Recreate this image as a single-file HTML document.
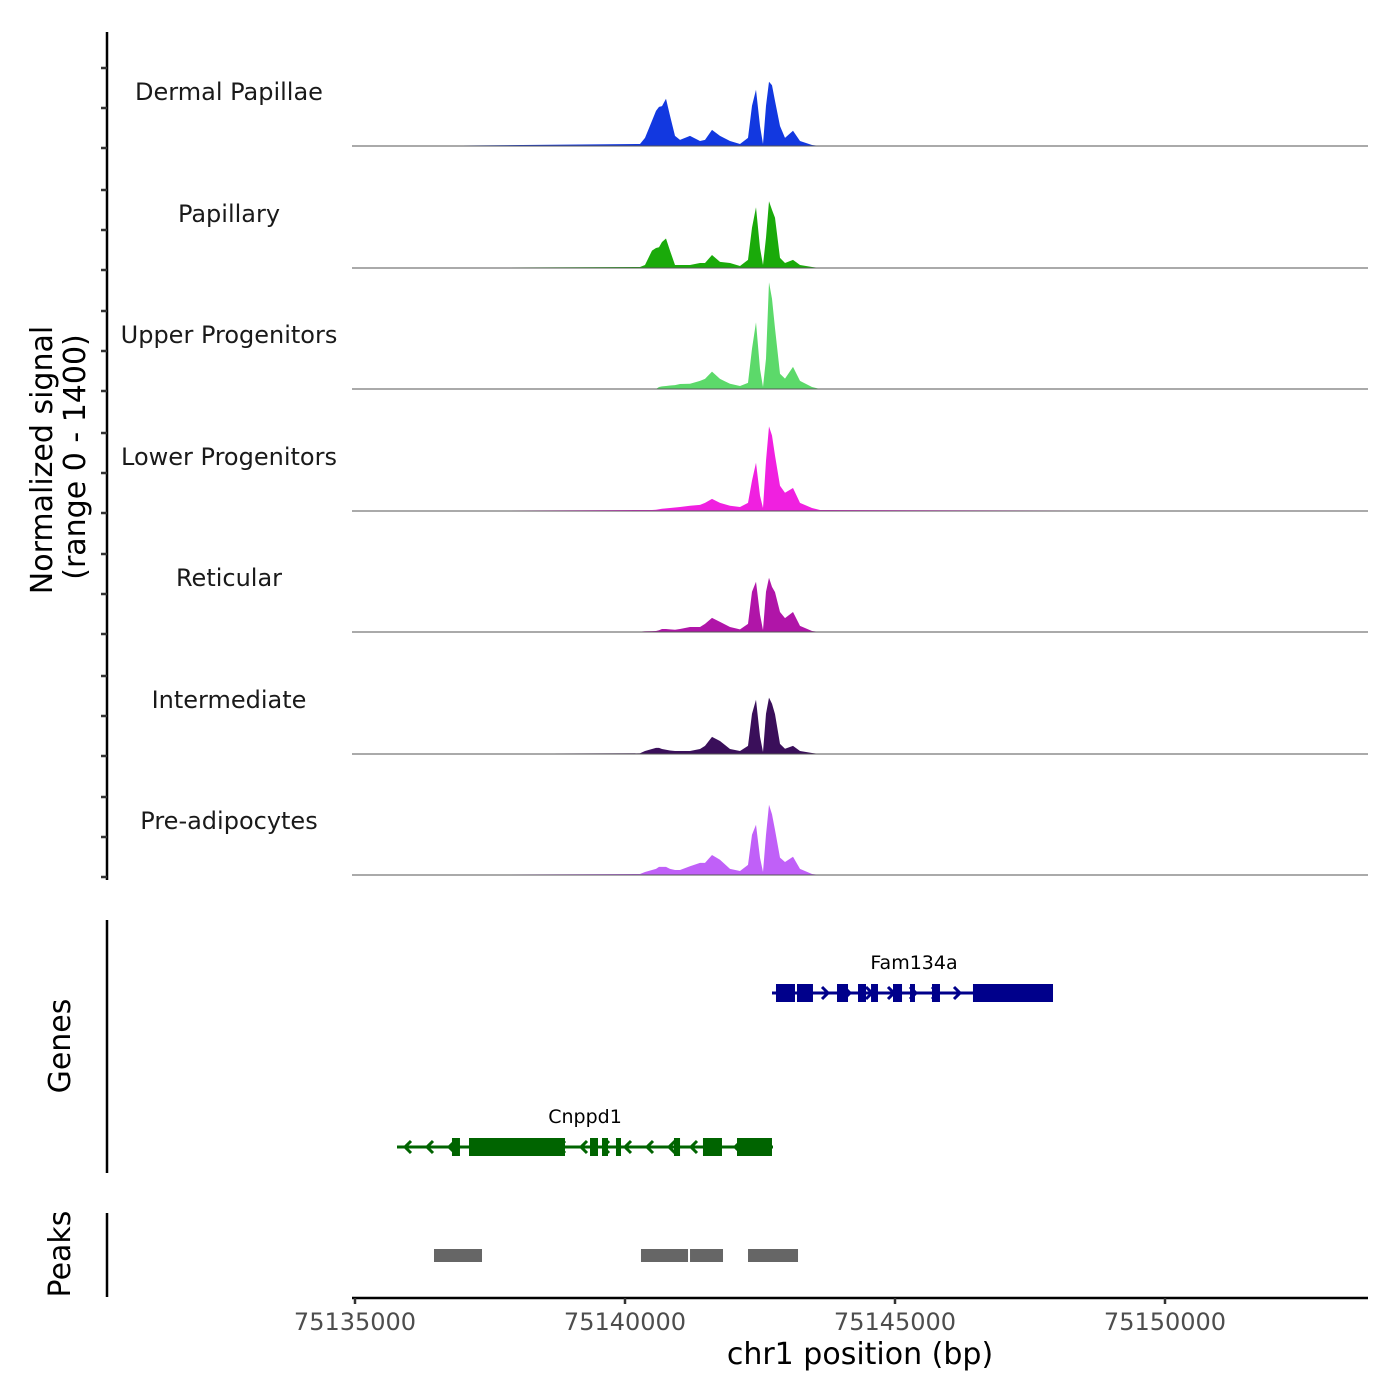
<!DOCTYPE html>
<html><head><meta charset="utf-8">
<style>
html,body{margin:0;padding:0;background:#fff;}
svg{display:block;font-family:"DejaVu Sans","Liberation Sans",sans-serif;}
</style></head>
<body>
<svg id="chart" width="1400" height="1400" viewBox="0 0 1400 1400" xmlns="http://www.w3.org/2000/svg">
<rect width="1400" height="1400" fill="#fff"/>
<g id="tracks"></g>
<g id="genes"></g>
<g id="peaks"></g>
<g id="axes"></g>
<text transform="translate(52,460) rotate(-90)" text-anchor="middle" font-size="30" fill="#000">Normalized signal</text>
<text transform="translate(85,457) rotate(-90)" text-anchor="middle" font-size="30" fill="#000">(range 0 - 1400)</text>
<text transform="translate(70,1046) rotate(-90)" text-anchor="middle" font-size="30" fill="#000">Genes</text>
<text transform="translate(70,1254) rotate(-90)" text-anchor="middle" font-size="30" fill="#000">Peaks</text>
<text x="860" y="1364" text-anchor="middle" font-size="30" fill="#000">chr1 position (bp)</text>
</svg>
<script>
const NS="http://www.w3.org/2000/svg";
// ---- data ----
const positions=[75134944,75135833,75140278,75140370,75140500,75140574,75140630,75140685,75140759,75140833,75140926,75141019,75141204,75141389,75141481,75141611,75141759,75141944,75142130,75142278,75142352,75142426,75142500,75142556,75142611,75142667,75142722,75142778,75142870,75142963,75143111,75143241,75143463,75143611,75153750];
const trackNames=["Dermal Papillae","Papillary","Upper Progenitors","Lower Progenitors","Reticular","Intermediate","Pre-adipocytes"];
const trackColors=["#1238e0","#1aaa0a","#5cd96a","#f020e0","#b015a8","#3a0f5a","#c060f8"];
const sigDermal=[0,0,23,93,290,405,450,460,545,350,116,70,116,58,70,185,116,58,23,93,463,648,230,23,463,740,700,520,230,93,175,58,12,0,0];
const sigPapillary=[0,0,12,35,200,230,240,300,340,200,35,35,35,58,58,150,70,58,23,93,463,700,230,35,350,770,670,580,116,58,93,35,12,0,0];
const sigUpper=[0,0,0,0,0,0,23,30,35,40,45,58,60,93,116,200,116,60,35,70,463,770,230,23,350,1230,1040,700,175,120,255,93,23,0,0];
const sigLower=[0,0,12,12,12,15,20,25,30,35,40,46,60,70,93,140,93,60,46,93,350,555,175,35,580,975,870,640,290,210,265,93,35,12,0];
const sigReticular=[0,0,5,8,10,12,20,35,35,30,25,35,58,58,93,162,116,58,30,93,463,580,200,23,463,625,520,460,230,160,230,70,12,0,0];
const sigIntermediate=[0,0,8,35,58,70,70,58,50,40,35,35,35,58,93,197,150,58,35,93,463,625,200,23,463,650,580,460,116,60,93,35,12,0,0];
const sigPreadip=[0,0,12,35,58,70,93,93,93,70,58,58,100,140,140,230,175,70,46,116,463,580,200,35,463,810,700,520,200,150,210,70,12,0,0];
const signals=[sigDermal,sigPapillary,sigUpper,sigLower,sigReticular,sigIntermediate,sigPreadip];
const xTicks=[75135000,75140000,75145000,75150000];
const peakStarts=[75136463,75140296,75141204,75142278];
const peakEnds=[75137352,75141167,75141815,75143204];
const famExonStarts=[75142796,75143185,75143926,75144315,75144556,75144963,75145278,75145685,75146444];
const famExonEnds=[75143148,75143481,75144130,75144463,75144685,75145130,75145370,75145833,75147926];
const cnpExonStarts=[75136796,75137111,75139352,75139574,75139833,75140907,75141444,75142074];
const cnpExonEnds=[75136944,75138889,75139500,75139685,75139926,75141019,75141796,75142722];
// ---- scales ----
const X0=75135000,PX0=355,PXPER=0.054;
function xs(bp){return PX0+(bp-X0)*PXPER;}
const baselines=[146,268,389,511,632,754,875];
const trackH=121.5,YMAX=1400;
function ys(v,i){return baselines[i]-v/YMAX*trackH;}
function el(tag,attrs,parent){const e=document.createElementNS(NS,tag);for(const k in attrs)e.setAttribute(k,attrs[k]);parent.appendChild(e);return e;}
const gT=document.getElementById('tracks');
signals.forEach((s,i)=>{
  let d="M"+xs(positions[0])+","+baselines[i];
  s.forEach((v,j)=>{d+=" L"+xs(positions[j]).toFixed(1)+","+ys(v,i).toFixed(1);});
  d+=" L"+xs(positions[positions.length-1])+","+baselines[i]+"Z";
  const p=el('path',{d:d,fill:trackColors[i]},gT);
  
  
  const b=el('line',{x1:352,x2:1368,y1:baselines[i],y2:baselines[i],stroke:'#555','stroke-width':1},gT);
  
  
  const t=el('text',{x:229,y:baselines[i]-46,'text-anchor':'middle','font-size':24,fill:'#1a1a1a'},gT);
  t.textContent=trackNames[i];
  
  
});
// genes
const gG=document.getElementById('genes');
function drawGene(starts,ends,y,color,label,dir,x1,x2,lx){
  el('line',{x1:x1,x2:x2,y1:y,y2:y,stroke:color,'stroke-width':3},gG);
  for(let ax=x1+10;ax<x2-5;ax+=22){
    const a=el('path',{d:dir>0?`M${ax-4},${y-6} L${ax+2},${y} L${ax-4},${y+6}`:`M${ax+4},${y-6} L${ax-2},${y} L${ax+4},${y+6}`,fill:'none',stroke:color,'stroke-width':3},gG);
    
    
  }
  starts.forEach((s,j)=>{
    const r=el('rect',{x:xs(s),y:y-9,width:Math.max(3,xs(ends[j])-xs(s)),height:18,fill:color},gG);
    
    
  });
  const t=el('text',{x:lx,y:y-24,'text-anchor':'middle','font-size':19,fill:'#000'},gG);
  t.textContent=label;
  
  
}
drawGene(famExonStarts,famExonEnds,993,'#00008b','Fam134a',1,772,1053,914);
drawGene(cnpExonStarts,cnpExonEnds,1147,'#006400','Cnppd1',-1,397,773,585);
// peaks
const gP=document.getElementById('peaks');
peakStarts.forEach((s,j)=>{
  const r=el('rect',{x:xs(s),y:1249,width:xs(peakEnds[j])-xs(s),height:13,fill:'#666'},gP);
  
  
});
// axes
const gA=document.getElementById('axes');
[[32,880],[920,1173],[1213,1297]].forEach(([a,b])=>{
  const l=el('line',{x1:107,x2:107,y1:a,y2:b,stroke:'#000','stroke-width':2.5},gA);
  
  
});
baselines.forEach(b=>{for(let k=0;k<3;k++){el('line',{x1:101,x2:107,y1:b+2-k*40,y2:b+2-k*40,stroke:'#333','stroke-width':2.5},gA);}});
const xl=el('line',{x1:352,x2:1368,y1:1298,y2:1298,stroke:'#000','stroke-width':2.5},gA);


xTicks.forEach(t=>{
  el('line',{x1:xs(t),x2:xs(t),y1:1298,y2:1304,stroke:'#333','stroke-width':2.5},gA);
  const tx=el('text',{x:xs(t),y:1330,'text-anchor':'middle','font-size':24,fill:'#4d4d4d'},gA);
  tx.textContent=String(t);
  
  
});
</script>
</body></html>
